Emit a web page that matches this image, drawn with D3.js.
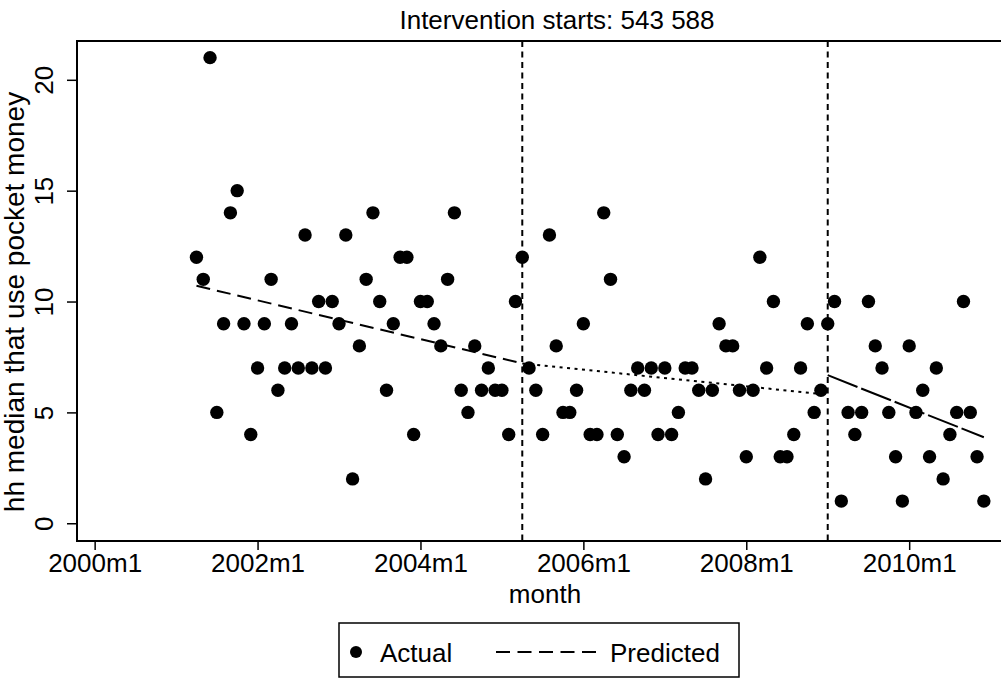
<!DOCTYPE html>
<html>
<head>
<meta charset="utf-8">
<script src="https://cdn.jsdelivr.net/npm/d3@7"></script>
<style>
  body { margin: 0; background: #fff; }
  text { font-family: "Liberation Sans", Arial, Helvetica, sans-serif; fill: #000; }
</style>
</head>
<body>
<svg id="chart" width="1001" height="679"></svg>
<script>
// Stata monthly dates (480 = 2000m1), one observation per month 2001m4..2010m12
let months = d3.range(495, 612);
let actual = [
    12, 11, 21, 5, 9, 14, 15, 9, 4, 7,
    9, 11, 6, 7, 9, 7, 13, 7, 10, 7,
    10, 9, 13, 2, 8, 11, 14, 10, 6, 9,
    12, 12, 4, 10, 10, 9, 8, 11, 14, 6,
    5, 8, 6, 7, 6, 6, 4, 10, 12, 7,
    6, 4, 13, 8, 5, 5, 6, 9, 4, 4,
    14, 11, 4, 3, 6, 7, 6, 7, 4, 7,
    4, 5, 7, 7, 6, 2, 6, 9, 8, 8,
    6, 3, 6, 12, 7, 10, 3, 3, 4, 7,
    9, 5, 6, 9, 10, 1, 5, 4, 5, 10,
    8, 7, 5, 3, 1, 8, 5, 6, 3, 7,
    2, 4, 5, 10, 5, 3, 1
];

// Predicted trend, one straight piece per period
let predPreMonths = [495, 543];
let predPreValues = [10.71, 7.21];
let predMidMonths = [543, 587];
let predMidValues = [7.21, 5.83];
let predPostMonths = [588, 611];
let predPostValues = [6.68, 3.88];

let interventions = [543, 588];

let xTicks = [480, 504, 528, 552, 576, 600];
let xTickLabels = ['2000m1', '2002m1', '2004m1', '2006m1', '2008m1', '2010m1'];
let yTicks = [0, 5, 10, 15, 20];

let svg = d3.select('#chart');
let fs = 26;

// plot region (right side runs past the window, as in the original)
let plot = { left: 77, right: 1011, top: 41, bottom: 541 };

let x = d3.scaleLinear().domain([477.4, 615]).range([plot.left, plot.right]);
let y = d3.scaleLinear().domain([-0.8, 21.75]).range([plot.bottom, plot.top]);

// frame
svg.append('rect')
    .attr('x', plot.left).attr('y', plot.top)
    .attr('width', plot.right - plot.left).attr('height', plot.bottom - plot.top)
    .attr('fill', 'none').attr('stroke', '#000').attr('stroke-width', 2);

// axes
let xAxis = svg.append('g')
    .attr('transform', `translate(0,${plot.bottom})`)
    .call(d3.axisBottom(x).tickValues(xTicks).tickSize(9).tickPadding(4)
        .tickFormat((d, i) => xTickLabels[i]));
xAxis.select('.domain').remove();
xAxis.selectAll('line').attr('stroke-width', 1.5);
xAxis.selectAll('text').attr('font-size', fs).attr('font-family', null);

let yAxis = svg.append('g')
    .attr('transform', `translate(${plot.left},0)`)
    .call(d3.axisLeft(y).tickValues(yTicks).tickSize(10));
yAxis.select('.domain').remove();
yAxis.selectAll('line').attr('stroke-width', 1.5);
yAxis.selectAll('text')
    .attr('font-size', fs).attr('font-family', null)
    .attr('x', null).attr('dy', null)
    .attr('text-anchor', 'middle')
    .attr('transform', 'translate(-24,0) rotate(-90)');

// intervention lines
svg.selectAll('.vline')
    .data(interventions)
    .enter()
    .append('line')
    .attr('x1', (d) => x(d)).attr('x2', (d) => x(d))
    .attr('y1', plot.top).attr('y2', plot.bottom)
    .attr('stroke', '#000').attr('stroke-width', 2)
    .attr('stroke-dasharray', '6,4.5');

// predicted lines
let line = d3.line()
    .x((d) => x(d[0]))
    .y((d) => y(d[1]));

let segs = [
    { m: predPreMonths, v: predPreValues, dash: '14,7' },
    { m: predMidMonths, v: predMidValues, dash: '3,4.5' },
    { m: predPostMonths, v: predPostValues, dash: '32,4' }
];
segs.forEach((s) => {
    svg.append('path')
        .datum(d3.zip(s.m, s.v))
        .attr('fill', 'none')
        .attr('stroke', '#000')
        .attr('stroke-width', 2)
        .attr('stroke-dasharray', s.dash)
        .attr('d', line);
});

// actual points
svg.selectAll('circle.pt')
    .data(d3.zip(months, actual))
    .enter()
    .append('circle')
    .attr('class', 'pt')
    .attr('cx', (d) => x(d[0]))
    .attr('cy', (d) => y(d[1]))
    .attr('r', 6.7)
    .attr('fill', '#000');

// titles
svg.append('text')
    .attr('x', 557).attr('y', 29)
    .attr('text-anchor', 'middle')
    .attr('font-size', fs)
    .text('Intervention starts: 543 588');

svg.append('text')
    .attr('x', (plot.left + plot.right) / 2 + 1).attr('y', 603)
    .attr('text-anchor', 'middle')
    .attr('font-size', fs)
    .text('month');

svg.append('text')
    .attr('transform', `translate(24,${(plot.top + plot.bottom) / 2 + 11}) rotate(-90)`)
    .attr('text-anchor', 'middle')
    .attr('font-size', 28)
    .text('hh median that use pocket money');

// legend
let lg = svg.append('g');
lg.append('rect')
    .attr('x', 339).attr('y', 623)
    .attr('width', 400).attr('height', 54)
    .attr('fill', '#fff').attr('stroke', '#000').attr('stroke-width', 1.5);
lg.append('circle')
    .attr('cx', 356).attr('cy', 652).attr('r', 6).attr('fill', '#000');
lg.append('text')
    .attr('x', 380).attr('y', 662)
    .attr('font-size', fs)
    .text('Actual');
lg.append('line')
    .attr('x1', 496).attr('x2', 596)
    .attr('y1', 652).attr('y2', 652)
    .attr('stroke', '#000').attr('stroke-width', 2)
    .attr('stroke-dasharray', '14,7.5');
lg.append('text')
    .attr('x', 610).attr('y', 662)
    .attr('font-size', fs)
    .text('Predicted');
</script>
</body>
</html>
